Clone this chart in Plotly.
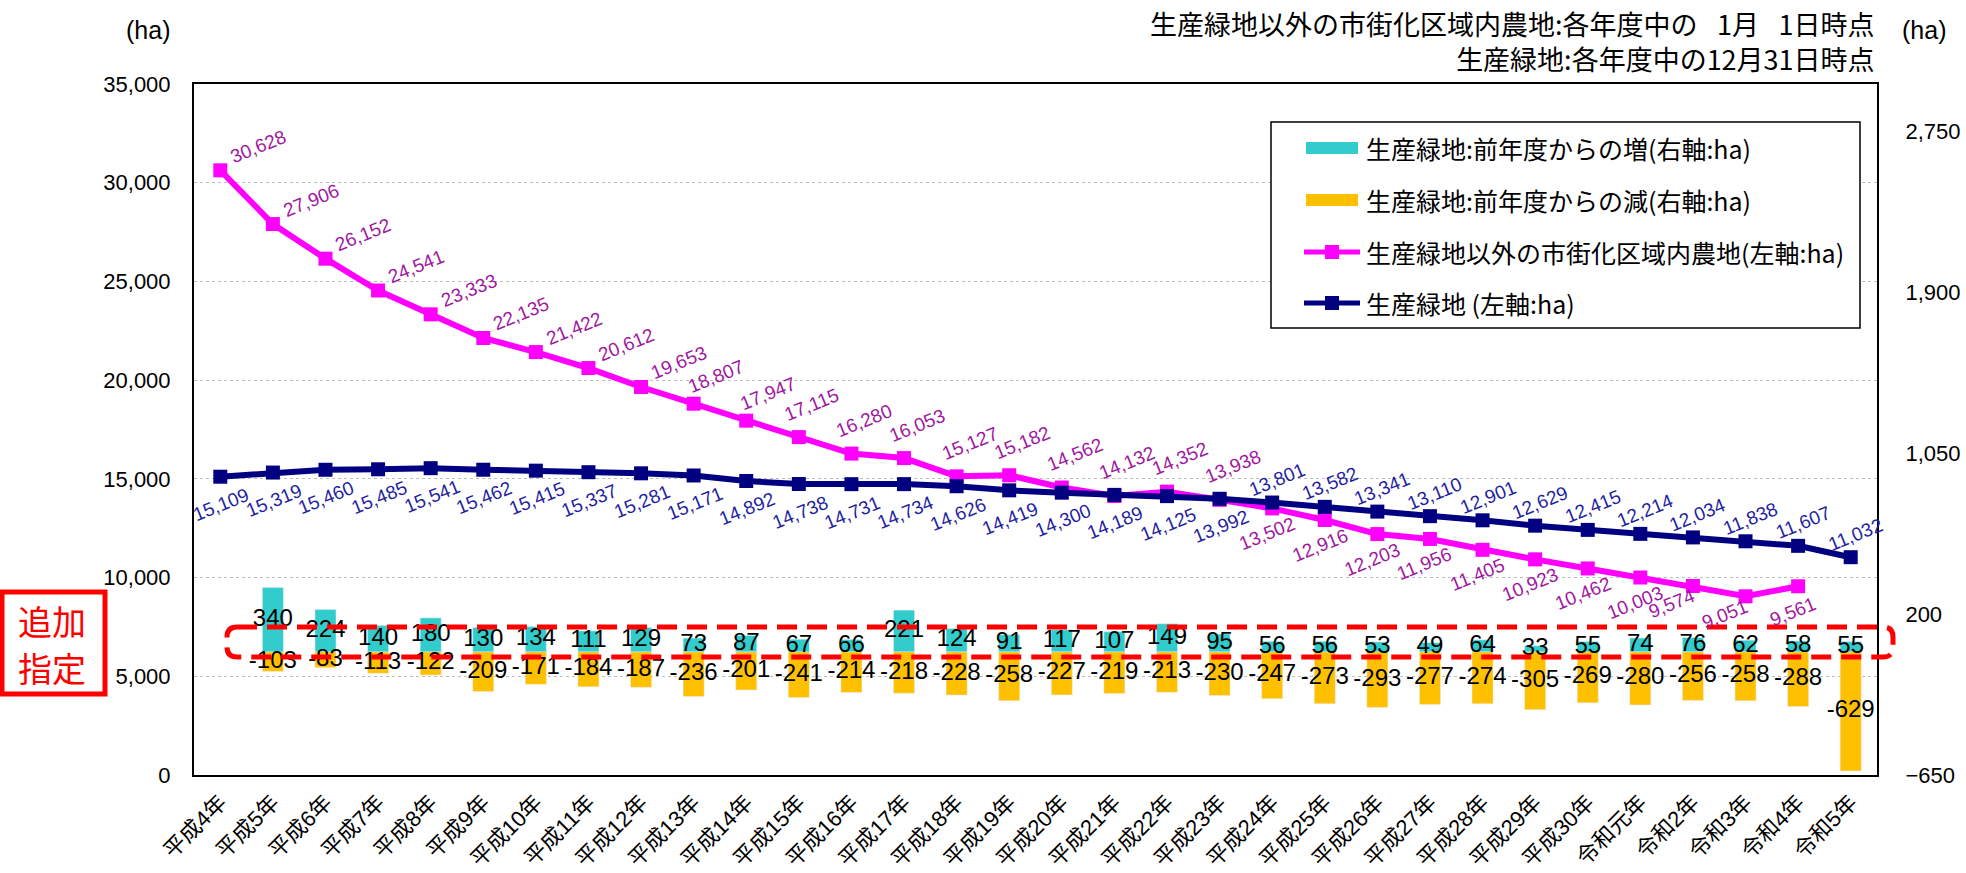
import plotly.graph_objects as go

# ---- data (ha) ----
years = [
    "平成4年", "平成5年", "平成6年", "平成7年", "平成8年", "平成9年", "平成10年",
    "平成11年", "平成12年", "平成13年", "平成14年", "平成15年", "平成16年",
    "平成17年", "平成18年", "平成19年", "平成20年", "平成21年", "平成22年",
    "平成23年", "平成24年", "平成25年", "平成26年", "平成27年", "平成28年",
    "平成29年", "平成30年", "令和元年", "令和2年", "令和3年", "令和4年", "令和5年",
]

# farmland in urbanization areas other than productive green land (left axis)
other_farmland = [
    30628, 27906, 26152, 24541, 23333, 22135, 21422, 20612, 19653, 18807,
    17947, 17115, 16280, 16053, 15127, 15182, 14562, 14132, 14352, 13938,
    13502, 12916, 12203, 11956, 11405, 10923, 10462, 10003, 9574, 9051,
    9561, None,
]

# productive green land (left axis)
green_land = [
    15109, 15319, 15460, 15485, 15541, 15462, 15415, 15337, 15281, 15171,
    14892, 14738, 14731, 14734, 14626, 14419, 14300, 14189, 14125, 13992,
    13801, 13582, 13341, 13110, 12901, 12629, 12415, 12214, 12034, 11838,
    11607, 11032,
]

# year-on-year increase / decrease of productive green land (right axis)
increase = [
    None, 340, 224, 140, 180, 130, 134, 111, 129, 73, 87, 67, 66, 221, 124,
    91, 117, 107, 149, 95, 56, 56, 53, 49, 64, 33, 55, 74, 76, 62, 58, 55,
]
decrease = [
    None, -103, -83, -113, -122, -209, -171, -184, -187, -236, -201, -241,
    -214, -218, -228, -258, -227, -219, -213, -230, -247, -273, -293, -277,
    -274, -305, -269, -280, -256, -258, -288, -629,
]

left_ticks = [0, 5000, 10000, 15000, 20000, 25000, 30000, 35000]
right_ticks = [-650, 200, 1050, 1900, 2750]

legend_labels = [
    "生産緑地:前年度からの増(右軸:ha)",
    "生産緑地:前年度からの減(右軸:ha)",
    "生産緑地以外の市街化区域内農地(左軸:ha)",
    "生産緑地 (左軸:ha)",
]

# ---- styling ----
TEAL = "#33CCCC"
GOLD = "#FFC000"
MAGENTA = "#FF00FF"
NAVY = "#000080"
MAG_TXT = "#A0179F"
NAVY_TXT = "#1F1F9F"
NUM_FONT = "Liberation Sans, Arial, Noto Sans CJK JP, sans-serif"
JP_FONT = "Noto Sans CJK JP, Liberation Sans, sans-serif"

W, H = 1966, 873
ML, MR, MT, MB = 194, 89, 84, 98
PW, PH = W - ML - MR, H - MT - MB


def px(x):
    return (x - ML) / PW


def py(y):
    return (H - MB - y) / PH


fig = go.Figure()

fig.add_trace(go.Bar(x=years, y=increase, yaxis="y2", marker_color=TEAL,
                     width=0.4, name=legend_labels[0], showlegend=False))
fig.add_trace(go.Bar(x=years, y=decrease, yaxis="y2", marker_color=GOLD,
                     width=0.4, name=legend_labels[1], showlegend=False))

# value labels centred in each bar
for vals in (increase, decrease):
    fig.add_trace(go.Scatter(
        x=years, y=[None if v is None else v / 2 for v in vals], yaxis="y2",
        mode="text", text=["" if v is None else f"{v}" for v in vals],
        textposition="middle center",
        textfont=dict(family=NUM_FONT, size=24, color="black"),
        showlegend=False, hoverinfo="skip", cliponaxis=False))

fig.add_trace(go.Scatter(
    x=years, y=other_farmland, mode="lines+markers", name=legend_labels[2],
    line=dict(color=MAGENTA, width=6),
    marker=dict(symbol="square", size=14, color=MAGENTA), showlegend=False))
fig.add_trace(go.Scatter(
    x=years, y=green_land, mode="lines+markers", name=legend_labels[3],
    line=dict(color=NAVY, width=6),
    marker=dict(symbol="square", size=14, color=NAVY), showlegend=False))

annotations = []

# line value labels (rotated)
for i, v in enumerate(other_farmland):
    if v is None:
        continue
    if i <= 8:
        dx, dy = 38, -24
    elif i <= 10:
        dx, dy = 22, -27
    elif i < 20:
        dx, dy = 13, -33
    elif i in (28, 29):
        dx, dy = -21, 18
    else:
        dx, dy = -5, 25
    annotations.append(dict(
        x=years[i], y=v, xref="x", yref="y", text=f"{v:,}", showarrow=False,
        textangle=-22, xshift=dx, yshift=-dy,
        font=dict(family=NUM_FONT, size=19, color=MAG_TXT)))

for i, v in enumerate(green_land):
    if i < 20:
        dx, dy = 1, 28
    else:
        dx, dy = 5, -23
    annotations.append(dict(
        x=years[i], y=v, xref="x", yref="y", text=f"{v:,}", showarrow=False,
        textangle=-22, xshift=dx, yshift=-dy,
        font=dict(family=NUM_FONT, size=19, color=NAVY_TXT)))

# headers
annotations += [
    dict(x=px(1877), y=py(41), xref="paper", yref="paper", xanchor="right",
         yanchor="middle", align="right", showarrow=False,
         text=("生産緑地以外の市街化区域内農地:各年度中の\u2002 1月\u2002 1日時点"
               "<br>生産緑地:各年度中の12月31日時点"),
         font=dict(family=JP_FONT, size=27, color="black")),
    dict(x=px(148), y=py(30), xref="paper", yref="paper", xanchor="center",
         yanchor="middle", showarrow=False, text="(ha)",
         font=dict(family=NUM_FONT, size=25, color="black")),
    dict(x=px(1924), y=py(30), xref="paper", yref="paper", xanchor="center",
         yanchor="middle", showarrow=False, text="(ha)",
         font=dict(family=NUM_FONT, size=25, color="black")),
    dict(x=px(52), y=py(620), xref="paper", yref="paper", xanchor="center",
         yanchor="middle", showarrow=False, text="追加",
         font=dict(family=JP_FONT, size=34, color="#FF0000")),
    dict(x=px(52), y=py(667), xref="paper", yref="paper", xanchor="center",
         yanchor="middle", showarrow=False, text="指定",
         font=dict(family=JP_FONT, size=34, color="#FF0000")),
]

shapes = []

# note box on the left
shapes.append(dict(type="rect", xref="paper", yref="paper",
                   x0=px(2), x1=px(105), y0=py(694), y1=py(592),
                   line=dict(color="#FF0000", width=5), layer="above"))

# dashed rounded frame around the bar labels
x0, x1 = px(227), px(1893)
yt, yb = py(627), py(657)
rx, ry = 10 / PW, 10 / PH
frame = (f"M{x0 + rx},{yt} L{x1 - rx},{yt} Q{x1},{yt} {x1},{yt - ry} "
         f"L{x1},{yb + ry} Q{x1},{yb} {x1 - rx},{yb} L{x0 + rx},{yb} "
         f"Q{x0},{yb} {x0},{yb + ry} L{x0},{yt - ry} Q{x0},{yt} {x0 + rx},{yt} Z")
shapes.append(dict(type="path", xref="paper", yref="paper", path=frame,
                   line=dict(color="#FF0000", width=5, dash="20px,10px"),
                   layer="above"))

# legend
shapes.append(dict(type="rect", xref="paper", yref="paper",
                   x0=px(1271), x1=px(1860), y0=py(328), y1=py(122),
                   fillcolor="white", line=dict(color="black", width=1.5),
                   layer="above"))
row_y = [148, 200, 252, 303]
for yy, col in zip(row_y[:2], (TEAL, GOLD)):
    shapes.append(dict(type="rect", xref="paper", yref="paper",
                       x0=px(1306), x1=px(1358), y0=py(yy + 6), y1=py(yy - 6),
                       fillcolor=col, line=dict(width=0), layer="above"))
for yy, col in zip(row_y[2:], (MAGENTA, NAVY)):
    shapes.append(dict(type="line", xref="paper", yref="paper",
                       x0=px(1304), x1=px(1360), y0=py(yy), y1=py(yy),
                       line=dict(color=col, width=5), layer="above"))
    shapes.append(dict(type="rect", xref="paper", yref="paper",
                       x0=px(1325), x1=px(1339), y0=py(yy + 7), y1=py(yy - 7),
                       fillcolor=col, line=dict(width=0), layer="above"))
for yy, label in zip(row_y, legend_labels):
    annotations.append(dict(x=px(1364), y=py(yy), xref="paper", yref="paper",
                            xanchor="left", yanchor="middle", showarrow=False,
                            text=label,
                            font=dict(family=JP_FONT, size=25, color="black")))

fig.update_layout(
    width=W, height=H,
    margin=dict(l=ML, r=MR, t=MT, b=MB, pad=0),
    paper_bgcolor="white", plot_bgcolor="white",
    barmode="overlay", bargap=0.6,
    showlegend=False,
    font=dict(family=NUM_FONT, size=22, color="black"),
    xaxis=dict(
        type="category", categoryorder="array", categoryarray=years,
        range=[-0.5, len(years) - 0.5], tickangle=-45,
        tickfont=dict(family=NUM_FONT, size=22, color="black"),
        showline=True, mirror=True, linecolor="black", linewidth=2,
        showgrid=False, ticks="", ticklabelstandoff=4, automargin=False,
        zeroline=False,
    ),
    yaxis=dict(
        range=[0, 35000], tickvals=left_ticks, tickformat=",d",
        tickfont=dict(family=NUM_FONT, size=22, color="black"),
        showline=True, linecolor="black", linewidth=2,
        showgrid=True, gridcolor="#BFBFBF", griddash="dot", gridwidth=1,
        zeroline=False, ticks="", ticklabelstandoff=17, automargin=False,
    ),
    yaxis2=dict(
        range=[-650, 3000], tickvals=right_ticks, tickformat=",d",
        overlaying="y", side="right",
        tickfont=dict(family=NUM_FONT, size=22, color="black"),
        showline=True, linecolor="black", linewidth=2,
        showgrid=False, zeroline=False, ticks="", ticklabelstandoff=22,
        automargin=False,
    ),
    annotations=annotations,
    shapes=shapes,
)

fig.write_html("out.html")
